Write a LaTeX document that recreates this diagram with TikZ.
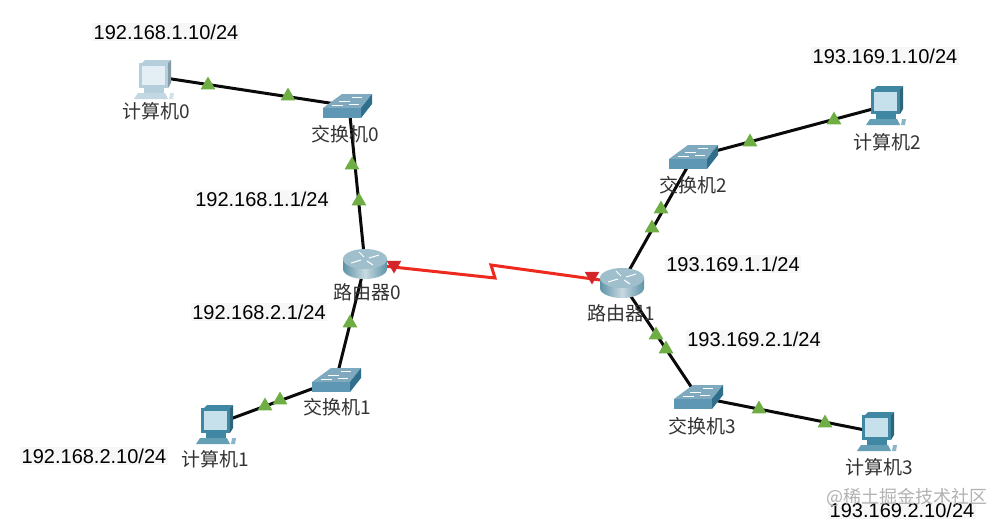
\documentclass[tikz,border=0pt]{standalone}
\usepackage{xcolor}
\usepackage{fontspec}
\setmainfont{Liberation Sans}
\newfontfamily\cjk{Noto Sans CJK SC}
\usetikzlibrary{arrows.meta,calc,positioning,shapes.geometric}
\definecolor{Wire}{HTML}{0A0A0A}
\definecolor{Serial}{HTML}{EE2A1E}
\definecolor{LinkUp}{HTML}{6FAD45}
\definecolor{LinkDown}{HTML}{D3262B}
\definecolor{SwTop}{HTML}{7FA9BE}
\definecolor{SwFront}{HTML}{5E97B4}
\definecolor{SwSide}{HTML}{2F6F8C}
\definecolor{RtTop}{HTML}{9FBFCC}
\definecolor{RtSide}{HTML}{5F93A8}
\definecolor{PcDark}{HTML}{3F87A3}
\definecolor{PcScreen}{HTML}{C6E0EC}
\definecolor{PcPale}{HTML}{B4CEDB}
\definecolor{PcPaleScreen}{HTML}{E4EFF5}
\definecolor{Caption}{HTML}{333333}
\tikzset{
  dev/.style={inner sep=0pt,minimum size=1pt},
  wire/.style={line width=3pt,color=Wire},
  serial/.style={line width=3pt,color=Serial},
  upmark/.style={regular polygon,regular polygon sides=3,fill=LinkUp,inner sep=0pt,minimum size=17pt},
  downmark/.style={regular polygon,regular polygon sides=3,shape border rotate=180,fill=LinkDown,inner sep=0pt,minimum size=17pt},
  devlabel/.style={font=\fontsize{19}{21}\selectfont,text=Caption,inner sep=0pt},
  iplabel/.style={font=\fontsize{20}{22}\selectfont,text=black,fill=black!3,inner sep=1.5pt},
  pics/pcicon/.style n args={2}{code={
    \fill[#1] (-10,-17) -- (16,-17) -- (19,-20) -- (-7,-20) -- cycle;
    \fill[#1!75!black] (16,-17) -- (19,-20) -- (19,3) -- (16,8) -- cycle;
    \fill[#1] (-13,-17) rectangle (16,8);
    \fill[#2] (-10,-14) rectangle (13,5);
    \fill[#1] (-8,8) rectangle (12,13);
    \fill[#1!80!white] (-14,13) -- (13,13) -- (16,19) -- (-18,19) -- cycle;
    \fill[#1!60!white] (18,13) -- (22,13) -- (21,19) -- (17,19) -- cycle;
  }},
  pics/swicon/.style={code={
    \fill[SwTop] (-24,2) -- (-5,-12) -- (25,-12) -- (14,2) -- cycle;
    \fill[SwFront] (-24,2) rectangle (14,12);
    \fill[SwSide] (14,2) -- (25,-12) -- (25,-2) -- (14,12) -- cycle;
    \draw[white,line width=.6pt] (-15,-1) -- (-4,-1) (-8,-5) -- (3,-5) (5,-9) -- (15,-9) (2,-2) -- (12,-2);
  }},
  pics/rticon/.style={code={
    \shade[left color=RtSide,right color=RtSide,middle color=RtSide!35!white]
      (-22,-5) -- (-22,5) arc[start angle=180,end angle=0,x radius=22,y radius=10] -- (22,-5) -- cycle;
    \fill[RtTop] (0,-5) ellipse[x radius=22,y radius=10];
    \draw[white,line width=1pt] (-14,-1) -- (-4,-4) (4,-6) -- (14,-9) (-6,-12) -- (-1,-7) (2,-3) -- (8,1);
  }}
}
\begin{document}
\begin{tikzpicture}[x=1pt,y=-1pt]
  \useasboundingbox (0,0) rectangle (1004,525);
  \fill[white] (0,0) rectangle (1004,525);
  % devices
  \foreach \n/\x/\y in {pc0/152/76,pc1/214/425,pc2/884/106,pc3/875/432,
                        sw0/349/106,sw1/336/380,sw2/693/157,sw3/698/397,
                        rt0/365/264,rt1/622/283}
    \node[dev] (\n) at (\x,\y) {};
  \coordinate (zig0) at (495,278);
  \coordinate (zig1) at (491,265);
  % links
  \foreach \a/\b in {pc0/sw0,sw0/rt0,rt0/sw1,sw1/pc1,rt1/sw2,sw2/pc2,rt1/sw3,sw3/pc3}
    \draw[wire] (\a) -- (\b);
  \draw[serial] (rt0) -- (zig0) -- (zig1) -- (rt1);
  % icons
  \pic at ($(pc0)+(0,4)$) {pcicon={PcPale}{PcPaleScreen}};
  \foreach \n in {pc1,pc2,pc3}
    \pic at (\n) {pcicon={PcDark}{PcScreen}};
  \pic at ($(sw0)+(-2,0)$) {swicon};
  \foreach \n in {sw1,sw2,sw3}
    \pic at (\n) {swicon};
  \foreach \n in {rt0,rt1}
    \pic at (\n) {rticon};
  % port lights
  \foreach \x/\y [count=\i] in {208/85,288/96,352/165,359/201,350/323,265/406,280/400,661/209,
                    652/228,656/335,666/349,750/142,834/120,759/409,825/423}
    \node[upmark] (up\i) at (\x,\y) {};
  \node[downmark] (dn0) at (394,265) {};
  \node[downmark] (dn1) at (592,276) {};
  % names
  \foreach \n/\t/\x/\y in {pc0/计算机0/156/111,pc1/计算机1/215/459,pc2/计算机2/887/142,pc3/计算机3/879/467,
                           sw0/交换机0/345/134,sw1/交换机1/337/407,sw2/交换机2/693/185,sw3/交换机3/702/426,
                           rt0/路由器0/367/292,rt1/路由器1/621/313}
    \node[devlabel] (\n name) at (\x,\y) {\cjk\t};
  % addresses
  \foreach \n/\t/\x/\y in {a/{192.168.1.10/24}/166/32,b/{192.168.1.1/24}/262/199,c/{192.168.2.1/24}/259/312,
                           d/{192.168.2.10/24}/94/456,e/{193.169.1.10/24}/885/56,f/{193.169.1.1/24}/733/264,
                           g/{193.169.2.1/24}/754/339,h/{193.169.2.10/24}/902/510}
    \node[iplabel] (ip\n) at (\x,\y) {\t};
  \node[font=\fontsize{18}{20}\selectfont,text=black!30,inner sep=0pt] (mark) at (907,497) {\cjk @稀土掘金技术社区};
\end{tikzpicture}
\end{document}
